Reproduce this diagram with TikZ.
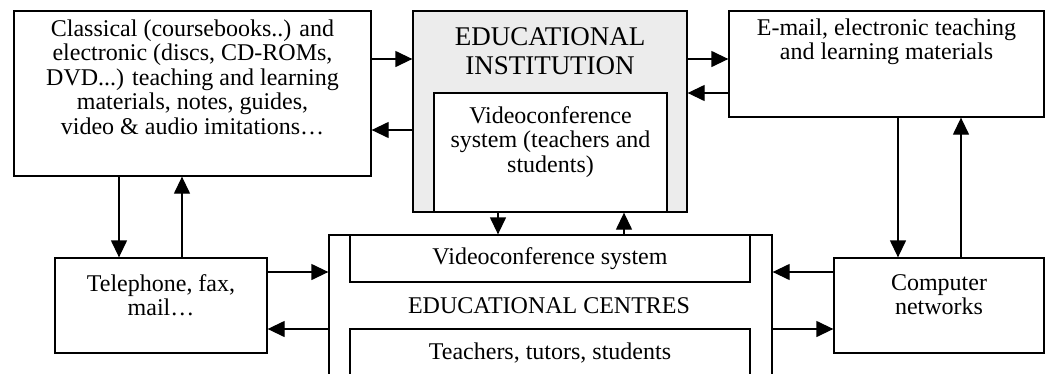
\documentclass[tikz,border=0pt]{standalone}
\usepackage{fontspec}
\setmainfont{Liberation Serif}
\usetikzlibrary{arrows.meta, positioning}

\begin{document}
\begin{tikzpicture}[
  x=1pt, y=-1pt,
  font=\fontsize{24}{24.5}\selectfont,
  box/.style={
    draw,
    line width=1.3pt,
    inner sep=0pt
  },
  txt/.style={align=center, inner sep=0pt},
  arrow/.style={-{Triangle[length=17pt, width=16pt]}, line width=1.3pt}
]
\clip (0,0) rectangle (1045,373);

% --- Educational institution ---
\node[box, fill=gray!15, minimum width=274pt, minimum height=201pt] (inst) at (550,111.5) {};
\node[txt, font=\fontsize{27}{29.5}\selectfont, below=17pt of inst.north] (insttitle)
{EDUCATIONAL\\INSTITUTION};
\node[box, fill=white, minimum width=233pt, minimum height=119pt] (instvc) at (550.5,152.5) {};
\node[txt, below=14pt of instvc.north] (instvctext)
{Videoconference\\system (teachers and\\students)};

% --- Media around it ---
\node[box, minimum width=357pt, minimum height=165pt] (classical) at (192.5,93.5) {};
\node[txt, below=9pt of classical.north] (classicaltext)
{Classical (coursebooks..) and\\
electronic (discs, CD-ROMs,\\
DVD...) teaching and learning\\
materials, notes, guides,\\
video \& audio imitations…};

\node[box, minimum width=315pt, minimum height=106pt] (email) at (886.5,64) {};
\node[txt, below=8pt of email.north] (emailtext)
{E-mail, electronic teaching\\and learning materials};

\node[box, minimum width=212pt, minimum height=95pt] (tel) at (161,305.5) {};
\node[txt, below=17pt of tel.north] (teltext) {Telephone, fax,\\mail…};

\node[box, minimum width=210pt, minimum height=95pt] (comp) at (939,305.5) {};
\node[txt, below=17pt of comp.north] (comptext) {Computer\\networks};

% --- Educational centres ---
\node[box, minimum width=443pt, minimum height=165pt] (centres) at (550.5,317.5) {};
\node[box, minimum width=400pt, minimum height=47pt] (centresvc) at (550,258.5)
{Videoconference system};
\node[txt] (centrestitle) at (549,306) {EDUCATIONAL CENTRES};
\node[box, minimum width=400pt, minimum height=48pt] (centrestut) at (550,353)
{Teachers, tutors, students};

% --- Links ---
\draw[arrow] ([yshift=34.5pt]classical.east) -- ([yshift=34.5pt]classical.east -| inst.west);
\draw[arrow] ([yshift=-36.5pt]classical.east -| inst.west) -- ([yshift=-36.5pt]classical.east);
\draw[arrow] ([yshift=52.5pt]inst.east) -- ([yshift=52.5pt]inst.east -| email.west);
\draw[arrow] ([yshift=-29pt]email.west) -- ([yshift=-29pt]email.west -| inst.east);

\draw[arrow] ([xshift=-52pt]inst.south) -- ([xshift=-52pt]inst.south |- centres.north);
\draw[arrow] ([xshift=74pt]inst.south |- centres.north) -- ([xshift=74pt]inst.south);

\draw[arrow] ([xshift=-42pt]tel.north |- classical.south) -- ([xshift=-42pt]tel.north);
\draw[arrow] ([xshift=21pt]tel.north) -- ([xshift=21pt]tel.north |- classical.south);
\draw[arrow] ([yshift=33.5pt]tel.east) -- ([yshift=33.5pt]tel.east -| centres.west);
\draw[arrow] ([yshift=-23.5pt]tel.east -| centres.west) -- ([yshift=-23.5pt]tel.east);

\draw[arrow] ([xshift=-41pt]comp.north |- email.south) -- ([xshift=-41pt]comp.north);
\draw[arrow] ([xshift=22pt]comp.north) -- ([xshift=22pt]comp.north |- email.south);
\draw[arrow] ([yshift=33.5pt]comp.west) -- ([yshift=33.5pt]comp.west -| centres.east);
\draw[arrow] ([yshift=-23.5pt]comp.west -| centres.east) -- ([yshift=-23.5pt]comp.west);

\end{tikzpicture}
\end{document}
